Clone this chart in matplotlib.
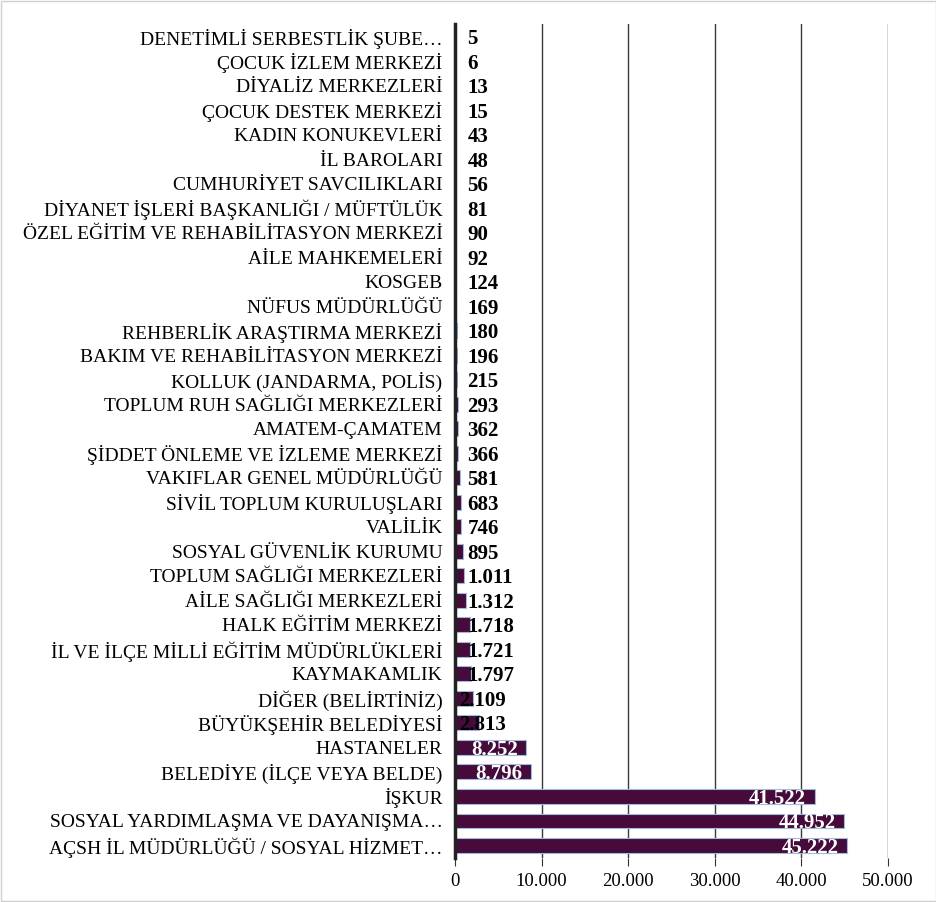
#horizontal bar chart of referrals by institution

import matplotlib.pyplot as plt
from matplotlib.ticker import FuncFormatter

plt.rcParams['font.family'] = ['Liberation Serif', 'DejaVu Serif']

kurumlar = [
    "DENETİMLİ SERBESTLİK ŞUBE…", "ÇOCUK İZLEM MERKEZİ", "DİYALİZ MERKEZLERİ",
    "ÇOCUK DESTEK MERKEZİ", "KADIN KONUKEVLERİ", "İL BAROLARI",
    "CUMHURİYET SAVCILIKLARI", "DİYANET İŞLERİ BAŞKANLIĞI / MÜFTÜLÜK",
    "ÖZEL EĞİTİM VE REHABİLİTASYON MERKEZİ", "AİLE MAHKEMELERİ", "KOSGEB",
    "NÜFUS MÜDÜRLÜĞÜ", "REHBERLİK ARAŞTIRMA MERKEZİ",
    "BAKIM VE REHABİLİTASYON MERKEZİ", "KOLLUK (JANDARMA, POLİS)",
    "TOPLUM RUH SAĞLIĞI MERKEZLERİ", "AMATEM-ÇAMATEM",
    "ŞİDDET ÖNLEME VE İZLEME MERKEZİ", "VAKIFLAR GENEL MÜDÜRLÜĞÜ",
    "SİVİL TOPLUM KURULUŞLARI", "VALİLİK", "SOSYAL GÜVENLİK KURUMU",
    "TOPLUM SAĞLIĞI MERKEZLERİ", "AİLE SAĞLIĞI MERKEZLERİ",
    "HALK EĞİTİM MERKEZİ", "İL VE İLÇE MİLLİ EĞİTİM MÜDÜRLÜKLERİ",
    "KAYMAKAMLIK", "DİĞER (BELİRTİNİZ)", "BÜYÜKŞEHİR BELEDİYESİ",
    "HASTANELER", "BELEDİYE (İLÇE VEYA BELDE)", "İŞKUR",
    "SOSYAL YARDIMLAŞMA VE DAYANIŞMA…", "AÇSH İL MÜDÜRLÜĞÜ / SOSYAL HİZMET…",
]
sayilar = [5, 6, 13, 15, 43, 48, 56, 81, 90, 92, 124, 169, 180, 196, 215, 293,
           362, 366, 581, 683, 746, 895, 1011, 1312, 1718, 1721, 1797, 2109,
           2813, 8252, 8796, 41522, 44952, 45222]

def tr_format(v):
    return "{:,.0f}".format(v).replace(",", ".")

fig = plt.figure(figsize=(9.37, 9.02), dpi=100)
ax = fig.add_axes([0.4856, 0.0492, 0.4621, 0.9238])

y = list(range(len(kurumlar)))
ax.barh(y, sayilar, height=0.6, color="#460b3a", edgecolor="#9fbbdc",
        linewidth=0.8, zorder=3)

for yi, v in zip(y, sayilar):
    if v > 5000:
        ax.annotate(tr_format(v), (v, yi), xytext=(-6, 0), textcoords="offset points",
                    ha="right", va="center_baseline", color="white", fontsize=15,
                    fontweight="bold", zorder=4)
    elif v > 2000:
        ax.annotate(tr_format(v), (0, yi), xytext=(3, 0), textcoords="offset points",
                    ha="left", va="center_baseline", color="black", fontsize=15,
                    fontweight="bold", zorder=4)
    else:
        ax.annotate(tr_format(v), (0, yi), xytext=(9, 0), textcoords="offset points",
                    ha="left", va="center_baseline", color="black", fontsize=15,
                    fontweight="bold", zorder=4)

ax.set_yticks(y)
ax.set_yticklabels(kurumlar, fontsize=14, va="center_baseline")
ax.set_ylim(len(kurumlar) - 0.5, -0.5)
ax.set_xlim(0, 50000)
ax.set_xticks([0, 10000, 20000, 30000, 40000, 50000])
ax.xaxis.set_major_formatter(FuncFormatter(lambda v, p: tr_format(v)))
ax.tick_params(axis="x", labelsize=13.5, length=6, color="#333333", pad=5)
ax.tick_params(axis="y", length=0, pad=9)
ax.grid(axis="x", color="#3a3a3a", linewidth=1.0, zorder=0)

for s in ["top", "right", "bottom"]:
    ax.spines[s].set_visible(False)
ax.spines["left"].set_linewidth(2.5)
ax.spines["left"].set_color("#222222")
ax.spines["left"].set_zorder(5)

fig.patches.append(plt.Rectangle((0.001, 0.001), 0.998, 0.998, transform=fig.transFigure,
                                 fill=False, edgecolor="#cfcfcf", linewidth=1))

fig.savefig("out.png", dpi=100)
